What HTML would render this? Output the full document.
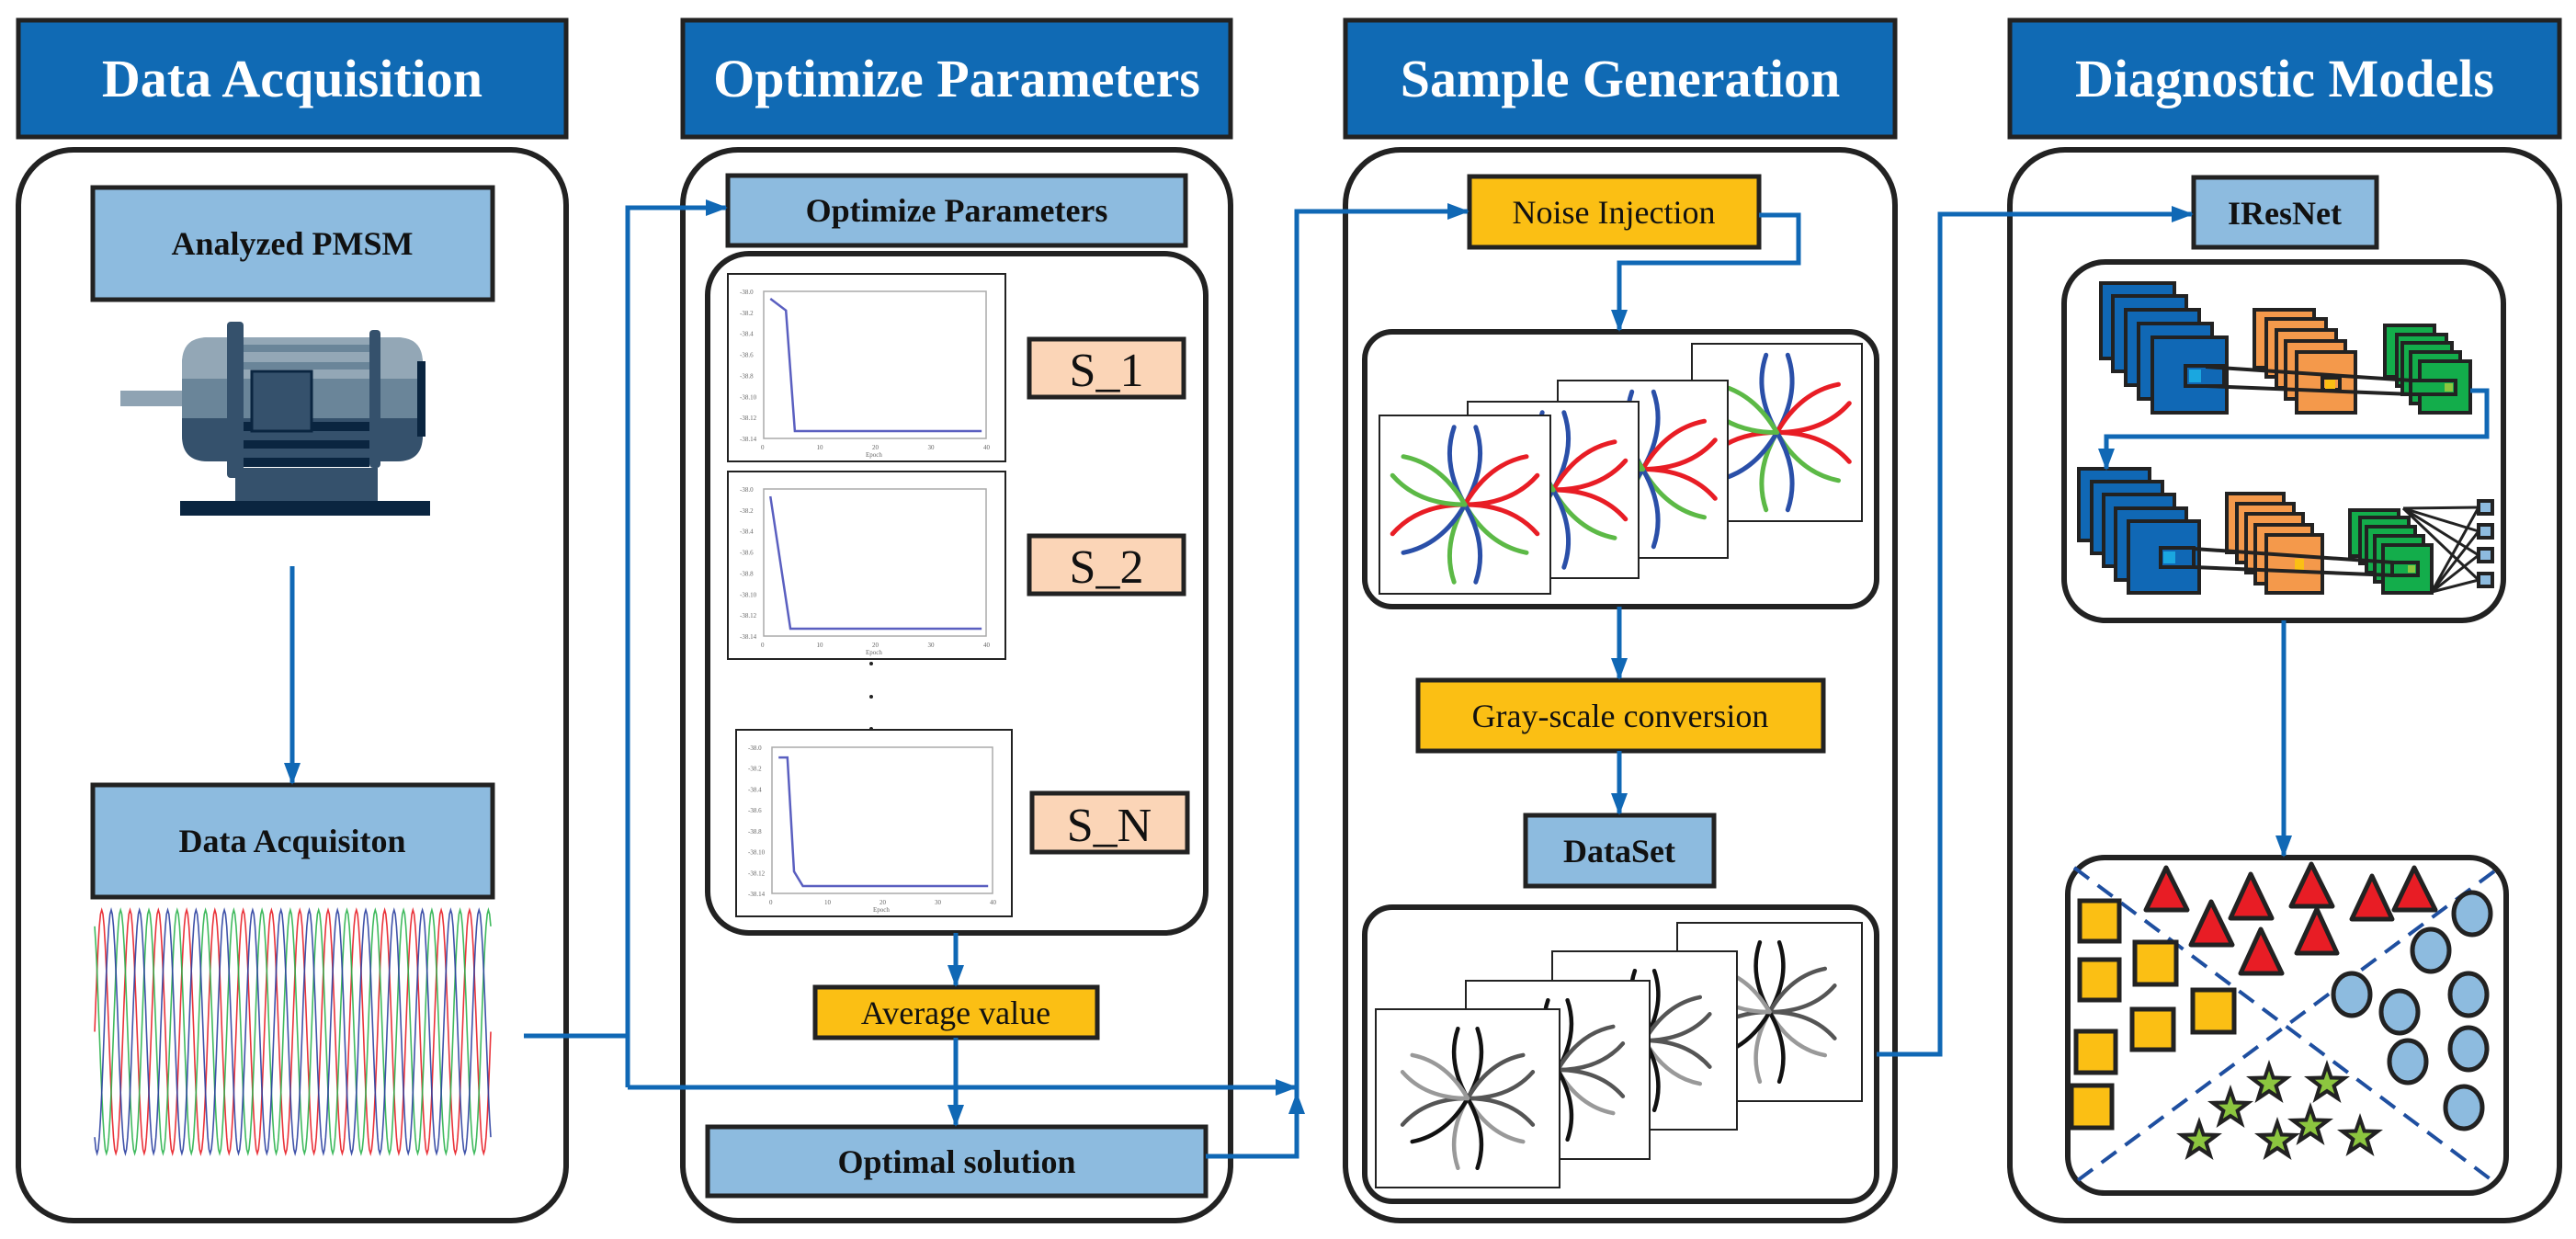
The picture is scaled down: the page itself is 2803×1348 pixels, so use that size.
<!DOCTYPE html>
<html><head><meta charset="utf-8"><style>
html,body{margin:0;padding:0;background:#fff}
svg{display:block}
.h{font-family:"Liberation Serif",serif;font-weight:bold;fill:#fff;font-size:58px;text-anchor:middle}
.b{font-family:"Liberation Serif",serif;font-weight:bold;fill:#111;font-size:36px;text-anchor:middle}
.r{font-family:"Liberation Serif",serif;fill:#111;font-size:36px;text-anchor:middle}
.s{font-family:"Liberation Serif",serif;fill:#111;font-size:52px;text-anchor:middle}
.t{font-family:"Liberation Serif",serif;fill:#666;font-size:7px}
</style></head><body>
<svg id="S" width="2803" height="1348" viewBox="0 0 2803 1348" xmlns="http://www.w3.org/2000/svg">
<defs>
<marker id="ar" markerWidth="24" markerHeight="18" refX="22" refY="9" orient="auto" markerUnits="userSpaceOnUse"><path d="M0,0 L24,9 L0,18 Z" fill="#1068b5"/></marker>
<g id="star"><polygon points="0,-26 6,-8.5 25,-8 10,3.3 15.5,21 0,10.6 -15.5,21 -10,3.3 -25,-8 -6,-8.5" fill="#222"/><polygon points="0,-14 3.2,-4.5 13,-4.3 5.3,1.8 8.2,11 0,5.6 -8.2,11 -5.3,1.8 -13,-4.3 -3.2,-4.5" fill="#8cc63f"/></g>
</defs>
<g stroke="#222" stroke-width="5" fill="#106ab4">
<rect x="20" y="22" width="596" height="127"/><rect x="743" y="22" width="596" height="127"/>
<rect x="1464" y="22" width="598" height="127"/><rect x="2187" y="22" width="598" height="127"/>
</g>
<text class="h" x="318" y="105">Data Acquisition</text>
<text class="h" x="1041" y="105">Optimize Parameters</text>
<text class="h" x="1763" y="105">Sample Generation</text>
<text class="h" x="2486" y="105">Diagnostic Models</text>
<g stroke="#222" stroke-width="6" fill="none">
<rect x="20" y="163" width="596" height="1165" rx="60"/>
<rect x="743" y="163" width="596" height="1165" rx="60"/>
<rect x="1464" y="163" width="598" height="1165" rx="60"/>
<rect x="2187" y="163" width="598" height="1165" rx="60"/>
<rect x="770" y="276" width="542" height="739" rx="45"/>
<rect x="1485" y="361" width="557" height="299" rx="30"/>
<rect x="1485" y="987" width="557" height="320" rx="30"/>
<rect x="2246" y="285" width="478" height="390" rx="45"/>
<rect x="2250" y="933" width="477" height="365" rx="40"/>
</g>
<g stroke="#222" stroke-width="5">
<rect x="101" y="204" width="435" height="122" fill="#8dbbdf"/>
<rect x="101" y="854" width="435" height="122" fill="#8dbbdf"/>
<rect x="792" y="191" width="498" height="76" fill="#8dbbdf"/>
<rect x="1120" y="369" width="168" height="63" fill="#fbd5b7"/>
<rect x="1120" y="583" width="168" height="63" fill="#fbd5b7"/>
<rect x="1123" y="863" width="169" height="64" fill="#fbd5b7"/>
<rect x="887" y="1074" width="307" height="55" fill="#fbbf14"/>
<rect x="770" y="1226" width="542" height="75" fill="#8dbbdf"/>
<rect x="1599" y="192" width="315" height="77" fill="#fbbf14"/>
<rect x="1543" y="740" width="441" height="77" fill="#fbbf14"/>
<rect x="1660" y="887" width="205" height="77" fill="#8dbbdf"/>
<rect x="2387" y="193" width="199" height="76" fill="#8dbbdf"/>
</g>
<text class="b" x="318" y="277">Analyzed PMSM</text>
<text class="b" x="318" y="927">Data Acquisiton</text>
<text class="b" x="1041" y="241">Optimize Parameters</text>
<text class="s" x="1204" y="420">S_1</text>
<text class="s" x="1204" y="634">S_2</text>
<text class="s" x="1207" y="915">S_N</text>
<text class="r" x="1040" y="1114">Average value</text>
<text class="b" x="1041" y="1276">Optimal solution</text>
<text class="r" x="1756" y="243">Noise Injection</text>
<text class="r" x="1763" y="791">Gray-scale conversion</text>
<text class="b" x="1762" y="938">DataSet</text>
<text class="b" x="2486" y="244">IResNet</text>
<g>
<rect x="131" y="425" width="70" height="17" fill="#8fa3b3"/>
<rect x="198" y="367" width="262" height="135" rx="28" fill="#6a8599"/>
<path d="M198,395 Q198,367 226,367 L432,367 Q460,367 460,395 L460,412 L198,412 Z" fill="#93a7b6"/>
<path d="M198,455 L460,455 L460,474 Q460,502 432,502 L226,502 Q198,502 198,474 Z" fill="#35516c"/>
<rect x="265" y="375" width="137" height="8" fill="#6a8599"/>
<rect x="265" y="394" width="137" height="8" fill="#6a8599"/>
<rect x="454" y="393" width="9" height="82" fill="#0a2540"/>
<rect x="247" y="350" width="18" height="170" rx="4" fill="#35516c"/>
<rect x="402" y="359" width="12" height="150" rx="4" fill="#35516c"/>
<rect x="265" y="459" width="137" height="10" fill="#0a2540"/>
<rect x="265" y="479" width="137" height="9" fill="#0a2540"/>
<rect x="265" y="498" width="137" height="10" fill="#0a2540"/>
<rect x="274" y="404" width="65" height="65" fill="#35516c" stroke="#0a2540" stroke-width="3"/>
<rect x="256" y="509" width="155" height="36" fill="#35516c"/>
<rect x="196" y="545" width="272" height="16" fill="#0a2540"/>
</g>
<g id="wave"></g>
<g id="plots"></g>
<g fill="#222"><circle cx="948" cy="722" r="2"/><circle cx="948" cy="758" r="2"/><circle cx="948" cy="793" r="2"/></g>
<g id="cards"></g>
<g stroke="#222" stroke-width="4">
<g fill="#1068b5"><rect x="2286" y="308" width="80" height="82"/><rect x="2299" y="322" width="80" height="82"/><rect x="2313" y="337" width="80" height="82"/><rect x="2327" y="352" width="80" height="82"/><rect x="2342" y="367" width="81" height="82"/></g>
<g fill="#f4994b"><rect x="2453" y="337" width="65" height="63"/><rect x="2466" y="347" width="65" height="63"/><rect x="2477" y="359" width="65" height="63"/><rect x="2487" y="371" width="65" height="63"/><rect x="2499" y="383" width="64" height="66"/></g>
<g fill="#13ad4b"><rect x="2595" y="354" width="54" height="56"/><rect x="2608" y="364" width="54" height="56"/><rect x="2614" y="373" width="54" height="56"/><rect x="2623" y="383" width="54" height="56"/><rect x="2633" y="393" width="55" height="56"/></g>
<rect x="2378" y="398" width="42" height="22" fill="#1068b5"/><rect x="2382" y="402" width="13" height="14" fill="#1aa7e0" stroke="none"/>
<rect x="2527" y="411" width="19" height="13" fill="none"/><rect x="2530" y="413" width="11" height="10" fill="#fbbf14" stroke="none"/>
<rect x="2623" y="414" width="49" height="15" fill="#13ad4b"/><rect x="2660" y="417" width="9" height="9" fill="#8cc63f" stroke="none"/>
<line x1="2400" y1="399" x2="2625" y2="414" /><line x1="2400" y1="420" x2="2625" y2="429"/>
<g fill="#1068b5"><rect x="2262" y="510" width="77" height="78"/><rect x="2276" y="524" width="77" height="78"/><rect x="2289" y="538" width="77" height="78"/><rect x="2302" y="553" width="77" height="78"/><rect x="2316" y="567" width="77" height="78"/></g>
<g fill="#f4994b"><rect x="2423" y="537" width="62" height="64"/><rect x="2434" y="548" width="62" height="64"/><rect x="2444" y="559" width="62" height="64"/><rect x="2454" y="571" width="62" height="64"/><rect x="2466" y="582" width="61" height="63"/></g>
<g fill="#13ad4b"><rect x="2557" y="555" width="53" height="50"/><rect x="2568" y="563" width="53" height="50"/><rect x="2575" y="573" width="53" height="50"/><rect x="2584" y="583" width="53" height="50"/><rect x="2593" y="593" width="53" height="52"/></g>
<rect x="2351" y="596" width="36" height="21" fill="#1068b5"/><rect x="2354" y="600" width="13" height="13" fill="#1aa7e0" stroke="none"/>
<rect x="2497" y="608" width="10" height="12" fill="#fbbf14" stroke="none"/>
<rect x="2603" y="612" width="28" height="14" fill="#13ad4b"/><rect x="2620" y="615" width="8" height="8" fill="#8cc63f" stroke="none"/>
<line x1="2387" y1="597" x2="2605" y2="612"/><line x1="2387" y1="617" x2="2605" y2="626"/>
<g fill="#8dbbdf"><rect x="2697" y="545" width="15" height="14"/><rect x="2697" y="571" width="15" height="14"/><rect x="2697" y="597" width="15" height="14"/><rect x="2697" y="624" width="15" height="14"/></g>
<g stroke-width="3"><line x1="2615" y1="553" x2="2697" y2="552"/><line x1="2615" y1="553" x2="2697" y2="578"/><line x1="2615" y1="553" x2="2697" y2="604"/><line x1="2615" y1="553" x2="2697" y2="631"/>
<line x1="2646" y1="644" x2="2697" y2="552"/><line x1="2646" y1="644" x2="2697" y2="578"/><line x1="2646" y1="644" x2="2697" y2="604"/><line x1="2646" y1="644" x2="2697" y2="631"/></g>
</g>
<g stroke="#1f4fa0" stroke-width="4" stroke-dasharray="20,12"><line x1="2257" y1="944" x2="2714" y2="1286"/><line x1="2714" y1="948" x2="2257" y2="1287"/></g>
<g fill="#fbbf14" stroke="#222" stroke-width="5">
<rect x="2263" y="980" width="43" height="44"/><rect x="2263" y="1044" width="43" height="44"/><rect x="2323" y="1025" width="45" height="46"/><rect x="2386" y="1077" width="45" height="46"/><rect x="2320" y="1098" width="45" height="44"/><rect x="2259" y="1122" width="43" height="45"/><rect x="2254" y="1181" width="44" height="46"/>
</g>
<g fill="#e81d25" stroke="#222" stroke-width="5" stroke-linejoin="round">
<polygon points="2357,944 2380,990 2335,990"/><polygon points="2449,951 2472,999 2427,999"/><polygon points="2515,940 2538,986 2493,986"/><polygon points="2581,953 2603,1000 2559,1000"/><polygon points="2627,944 2650,990 2605,990"/><polygon points="2406,981 2429,1028 2384,1028"/><polygon points="2521,989 2543,1037 2499,1037"/><polygon points="2460,1011 2483,1059 2438,1059"/>
</g>
<g fill="#8dbbdf" stroke="#222" stroke-width="5">
<ellipse cx="2690" cy="994" rx="20" ry="23"/><ellipse cx="2645" cy="1034" rx="20" ry="23"/><ellipse cx="2559" cy="1082" rx="20" ry="23"/><ellipse cx="2611" cy="1101" rx="20" ry="23"/><ellipse cx="2686" cy="1082" rx="20" ry="23"/><ellipse cx="2686" cy="1141" rx="20" ry="23"/><ellipse cx="2620" cy="1155" rx="20" ry="23"/><ellipse cx="2681" cy="1205" rx="20" ry="23"/>
</g>
<use href="#star" x="2469" y="1179"/><use href="#star" x="2532" y="1179"/><use href="#star" x="2427" y="1206"/><use href="#star" x="2514" y="1225"/><use href="#star" x="2393" y="1241"/><use href="#star" x="2478" y="1241"/><use href="#star" x="2568" y="1237"/>
<g stroke="#1068b5" stroke-width="5" fill="none">
<line x1="318" y1="616" x2="318" y2="852" marker-end="url(#ar)"/>
<polyline points="570,1127 683,1127"/>
<polyline points="683,1183 683,226 790,226" marker-end="url(#ar)"/>
<polyline points="683,1183 1410,1183" marker-end="url(#ar)"/>
<line x1="1040" y1="1015" x2="1040" y2="1072" marker-end="url(#ar)"/>
<line x1="1040" y1="1129" x2="1040" y2="1224" marker-end="url(#ar)"/>
<polyline points="1312,1258 1411,1258 1411,1190" marker-end="url(#ar)"/>
<polyline points="1411,1200 1411,230 1597,230" marker-end="url(#ar)"/>
<polyline points="1914,234 1957,234 1957,286 1762,286 1762,359" marker-end="url(#ar)"/>
<line x1="1762" y1="660" x2="1762" y2="738" marker-end="url(#ar)"/>
<line x1="1762" y1="817" x2="1762" y2="885" marker-end="url(#ar)"/>
<polyline points="2042,1147 2111,1147 2111,233 2385,233" marker-end="url(#ar)"/>
<line x1="2485" y1="675" x2="2485" y2="931" marker-end="url(#ar)"/>
<polyline points="2688,425 2706,425 2706,475 2292,475 2292,510" marker-end="url(#ar)"/>
</g>
</svg>
<script>
var NS="http://www.w3.org/2000/svg";
function el(p,t,a){var e=document.createElementNS(NS,t);for(var k in a)e.setAttribute(k,a[k]);p.appendChild(e);return e;}
(function(){var g=document.getElementById('wave');var x0=103,x1=534,y0=990,y1=1255,cyc=14;var cols=['#e81d25','#2bb24c','#2a3fa0'];
for(var c=0;c<3;c++){var d='';for(var i=0;i<=cyc*24;i++){var x=x0+(x1-x0)*i/(cyc*24);var y=(y0+y1)/2-(y1-y0)/2*Math.sin(2*Math.PI*i/24+c*2*Math.PI/3);d+=(i?'L':'M')+x.toFixed(1)+','+y.toFixed(1);}
el(g,'path',{d:d,stroke:cols[c],'stroke-width':1.6,fill:'none',opacity:0.9});}})();
(function(){var g=document.getElementById('plots');
function plot(x,y,w,h,pts){var G=el(g,'g',{transform:'translate('+x+','+y+')'});
el(G,'rect',{x:0,y:0,width:w,height:h,fill:'#fff',stroke:'#222','stroke-width':2});
var fx=39,fy=19,fw=w-60,fh=h-44;el(G,'rect',{x:fx,y:fy,width:fw,height:fh,fill:'none',stroke:'#aaa','stroke-width':1.5});
for(var i=0;i<8;i++){el(G,'text',{x:fx-26,y:fy+fh*i/7+3,'class':'t'}).textContent='-38.'+(i*2);}
for(var j=0;j<5;j++){el(G,'text',{x:fx+fw*j/4-3,y:fy+fh+12,'class':'t'}).textContent=String(j*10);}
el(G,'text',{x:fx+fw/2-10,y:h-5,'class':'t'}).textContent='Epoch';
var d='';pts.forEach(function(p,k){d+=(k?'L':'M')+(fx+p[0]*fw)+','+(fy+p[1]*fh);});
el(G,'path',{d:d,stroke:'#5a5fc0','stroke-width':2.5,fill:'none'});}
plot(792,298,302,204,[[0.03,0.05],[0.1,0.13],[0.14,0.95],[0.98,0.95]]);
plot(792,513,302,204,[[0.03,0.05],[0.12,0.95],[0.98,0.95]]);
plot(801,794,300,203,[[0.03,0.07],[0.07,0.07],[0.1,0.85],[0.14,0.95],[0.98,0.95]]);})();
(function(){var g=document.getElementById('cards');
function card(x,y,w,h,gray,sc){var G=el(g,'g',{transform:'translate('+x+','+y+')'});
el(G,'rect',{x:0,y:0,width:w,height:h,fill:'#fff',stroke:'#222','stroke-width':2});
var cx=w*0.5,cy=h*0.5,R=85*sc;
var C=gray?['#111','#555','#999']:['#2a4fa8','#e81d25','#5cb946'];
var petals=[[-90,C[0],C[0]],[-30,C[1],C[1]],[30,C[1],C[2]],[90,C[0],C[2]],[150,C[0],C[1]],[210,C[2],C[2]]];
petals.forEach(function(p){[-1,1].forEach(function(s,k){var a=(p[0]+s*8)*Math.PI/180;var tx=cx+R*Math.cos(a),ty=cy+R*Math.sin(a);
var ma=(p[0]+s*30)*Math.PI/180;var mx=cx+R*0.6*Math.cos(ma),my=cy+R*0.6*Math.sin(ma);
el(G,'path',{d:'M'+cx+','+cy+' Q'+mx.toFixed(1)+','+my.toFixed(1)+' '+tx.toFixed(1)+','+ty.toFixed(1),stroke:k?p[2]:p[1],'stroke-width':5*sc,fill:'none','stroke-linecap':'round'});});});}
card(1841,374,185,193,0,1);card(1695,414,185,193,0,1);card(1597,437,186,192,0,1);card(1501,452,186,194,0,1);
card(1825,1004,201,194,1,0.9);card(1689,1035,201,194,1,0.9);card(1595,1067,200,194,1,0.9);card(1497,1098,200,194,1,0.9);})();
</script>
</body></html>
